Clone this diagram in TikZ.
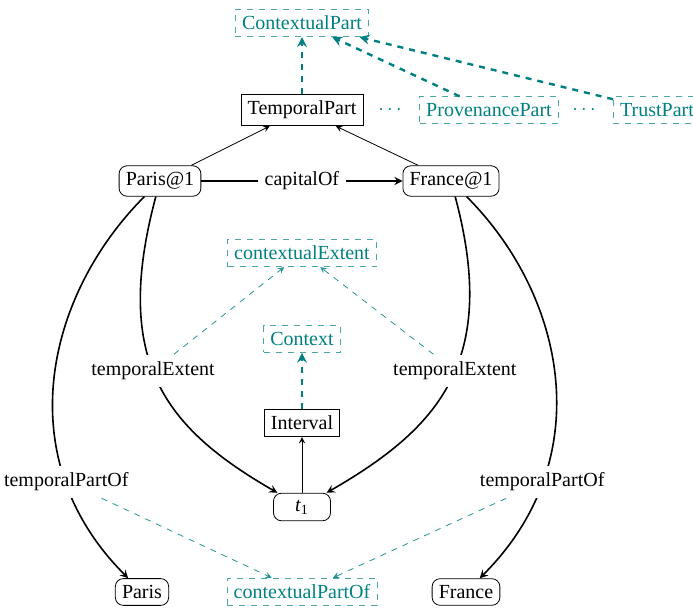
\documentclass[tikz,border=0pt]{standalone}
\usepackage{fontspec}
\setmainfont{Liberation Serif}
\usetikzlibrary{arrows}
\colorlet{context edge}{teal!70}
\colorlet{context text}{teal}
\tikzset{entity/.style={draw, rounded corners},
	class/.style={draw},
	context/.style={draw=context edge, dashed, text=context text},
	relation/.style={->, >=stealth, thick},
	subclass/.style={->, >=stealth},
	ctxlink/.style={->, >=stealth, dashed, context text, very thick},
	ctxprop/.style={->, >=stealth, dashed, context text!85},
	edgelabel/.style={fill=white}}

\begin{document}
\begin{tikzpicture}[x=0.5pt,y=0.5pt]
		\useasboundingbox (0,0) rectangle (693,-610);
		\node[context] (cpart) at (302,-23) {ContextualPart};
		\node[class] (tpart) at (302,-110) {TemporalPart};
		\node[text=context text] (dotsa) at (390,-110) {$\cdots$};
		\node[context] (ppart) at (489,-110) {ProvenancePart};
		\node[text=context text] (dotsb) at (584,-110) {$\cdots$};
		\node[context] (trpart) at (657,-110) {TrustPart};
		\node[entity] (paris1) at (160,-181) {Paris@1};
		\node[entity] (france1) at (451,-181) {France@1};
		\node[context] (cextent) at (302,-253) {contextualExtent};
		\node[context] (ctx) at (302,-339) {Context};
		\node[class] (interval) at (302,-423) {Interval};
		\node[entity, minimum width=28.5pt] (t1) at (302,-507) {\textit{t}\textsubscript{1}};
		\node[entity] (paris) at (142,-592) {Paris};
		\node[context] (cpartof) at (302,-592) {contextualPartOf};
		\node[entity] (france) at (466,-592) {France};
		
		\draw[ctxlink] (tpart) -- (cpart);
		\draw[ctxlink] (ppart) -- (cpart);
		\draw[ctxlink] (trpart) -- (cpart);
		\draw[subclass] (paris1) -- (tpart);
		\draw[subclass] (france1) -- (tpart);
		\draw[relation] (paris1) -- node[edgelabel] {capitalOf} (france1);
		\draw[relation] (paris1) to[out=-105, in=150, out distance=85pt, in distance=65pt]
			node[edgelabel, pos=.46] (textenta) {temporalExtent} (t1);
		\draw[relation] (france1) to[out=-75, in=30, out distance=85pt, in distance=65pt]
			node[edgelabel, pos=.46] (textentb) {temporalExtent} (t1);
		\draw[relation] (paris1) to[out=-135, in=135, out distance=69.5pt, in distance=85pt]
			node[edgelabel, pos=.75] (tpartofa) {temporalPartOf} (paris);
		\draw[relation] (france1) to[out=-45, in=45, out distance=69.5pt, in distance=85pt]
			node[edgelabel, pos=.75] (tpartofb) {temporalPartOf} (france);
		\draw[subclass] (t1) -- (interval);
		\draw[ctxlink] (interval) -- (ctx);
		\draw[ctxprop] (textenta) -- (cextent);
		\draw[ctxprop] (textentb) -- (cextent);
		\draw[ctxprop] (tpartofa) -- (cpartof);
		\draw[ctxprop] (tpartofb) -- (cpartof);
		\end{tikzpicture}
\end{document}
